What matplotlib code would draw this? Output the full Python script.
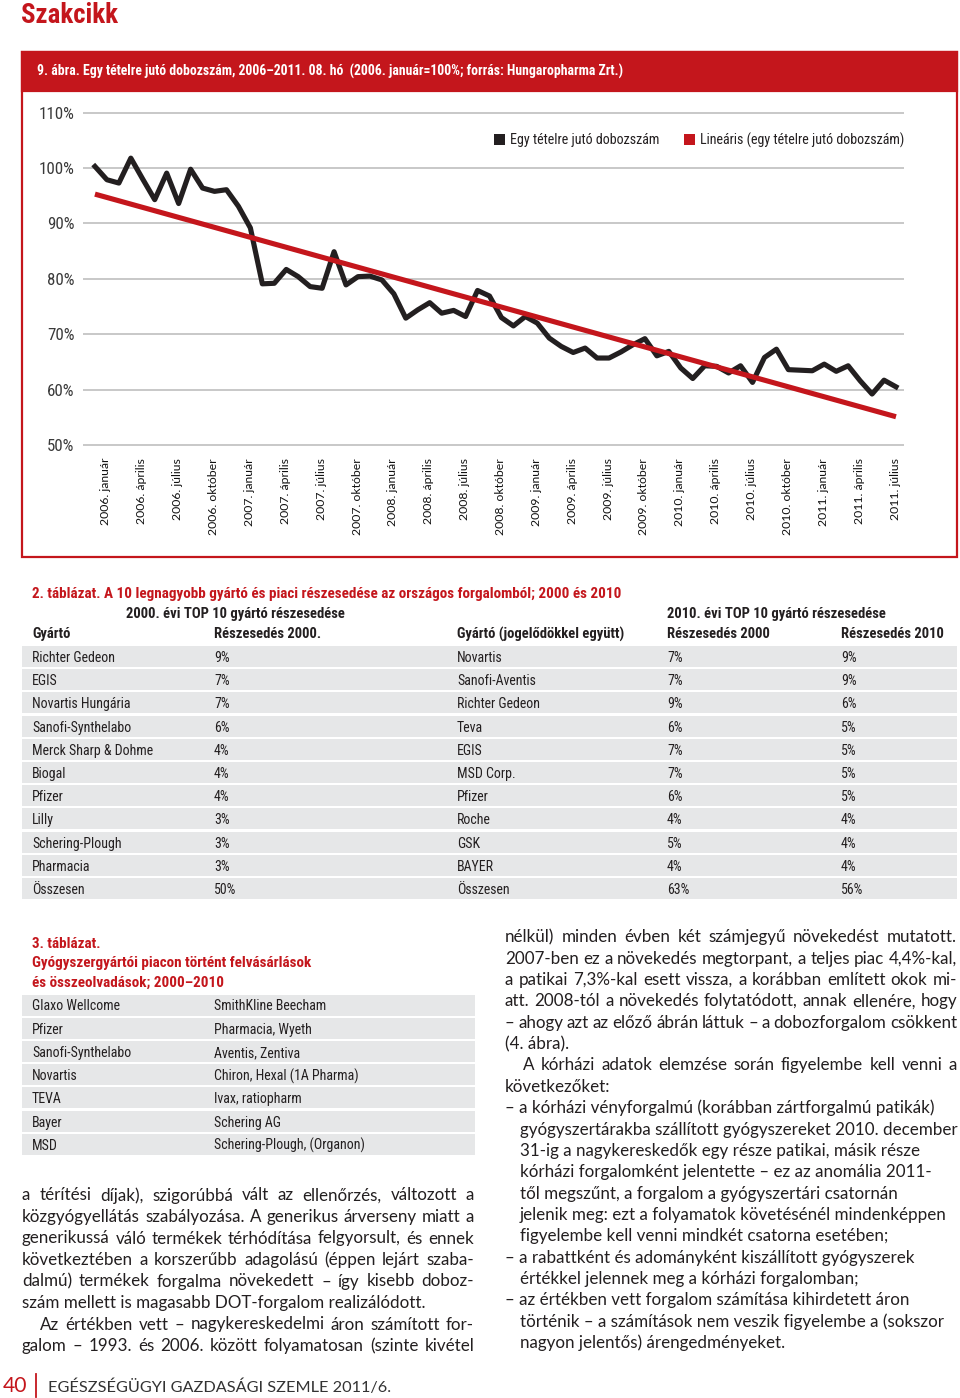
import matplotlib
matplotlib.use('Agg')
import matplotlib.pyplot as plt
import matplotlib.font_manager as fm
from matplotlib.patches import Rectangle, Patch
from matplotlib.lines import Line2D
from matplotlib.transforms import ScaledTranslation
import numpy as np

# ---------------- data ----------------
# 9. ábra: egy tételre jutó dobozszám, 2006. január - 2011. augusztus (2006. január = 100%)
dobozszam = [100.3, 97.9, 97.3, 101.8, 98.0, 94.3, 99.1, 93.6, 99.8, 96.4, 95.8, 96.1,
             93.1, 89.2, 79.1, 79.2, 81.7, 80.4, 78.6, 78.3, 84.9, 78.9, 80.4, 80.5,
             79.8, 77.3, 72.9, 74.4, 75.7, 73.8, 74.3, 73.2, 77.9, 76.9, 73.0, 71.5,
             73.2, 72.0, 69.3, 67.8, 66.7, 67.5, 65.7, 65.7, 66.8, 68.1, 69.2, 66.1,
             66.9, 63.9, 62.0, 64.3, 64.2, 63.0, 64.3, 61.3, 65.8, 67.3, 63.6, 63.5,
             63.4, 64.6, 63.3, 64.3, 61.6, 59.2, 61.7, 60.5]
# lineáris trend (kezdő és záró érték)
trend_ertekek = [95.3, 55.1]
x_cimkek = ["2006. január", "2006. április", "2006. július", "2006. október",
            "2007. január", "2007. április", "2007. július", "2007. október",
            "2008. január", "2008. április", "2008. július", "2008. október",
            "2009. január", "2009. április", "2009. július", "2009. október",
            "2010. január", "2010. április", "2010. július", "2010. október",
            "2011. január", "2011. április", "2011. július"]
y_ertekek = [50, 60, 70, 80, 90, 100, 110]
sorozat_nevek = ["Egy tételre jutó dobozszám", "Lineáris (egy tételre jutó dobozszám)"]

# 2. táblázat
gyarto_2000 = ["Richter Gedeon", "EGIS", "Novartis Hungária", "Sanofi-Synthelabo",
               "Merck Sharp & Dohme", "Biogal", "Pfizer", "Lilly", "Schering-Plough",
               "Pharmacia", "Összesen"]
reszesedes_2000 = [9, 7, 7, 6, 4, 4, 4, 3, 3, 3, 50]
gyarto_2010 = ["Novartis", "Sanofi-Aventis", "Richter Gedeon", "Teva", "EGIS",
               "MSD Corp.", "Pfizer", "Roche", "GSK", "BAYER", "Összesen"]
top2010_reszesedes_2000 = [7, 7, 9, 6, 7, 7, 6, 4, 5, 4, 63]
top2010_reszesedes_2010 = [9, 9, 6, 5, 5, 5, 5, 4, 4, 4, 56]

# 3. táblázat
felvasarlo = ["Glaxo Wellcome", "Pfizer", "Sanofi-Synthelabo", "Novartis", "TEVA",
              "Bayer", "MSD"]
felvasarolt = ["SmithKline Beecham", "Pharmacia, Wyeth", "Aventis, Zentiva",
               "Chiron, Hexal (1A Pharma)", "Ivax, ratiopharm", "Schering AG",
               "Schering-Plough, (Organon)"]

# body text
bal_sorok = [
    ("a térítési díjak), szigorúbbá vált az ellenőrzés, változott a", True, 0),
    ("közgyógyellátás szabályozása. A generikus árverseny miatt a", True, 0),
    ("generikussá váló termékek térhódítása felgyorsult, és ennek", True, 0),
    ("következtében a korszerűbb adagolású (éppen lejárt szaba-", True, 0),
    ("dalmú) termékek forgalma növekedett – így kisebb doboz-", True, 0),
    ("szám mellett is magasabb DOT-forgalom realizálódott.", False, 0),
    ("Az értékben vett – nagykereskedelmi áron számított for-", True, 18),
    ("galom – 1993. és 2006. között folyamatosan (szinte kivétel", True, 0),
]
jobb_sorok = [
    ("nélkül) minden évben két számjegyű növekedést mutatott.", True, 0),
    ("2007-ben ez a növekedés megtorpant, a teljes piac 4,4%-kal,", True, 0),
    ("a patikai 7,3%-kal esett vissza, a korábban említett okok mi-", True, 0),
    ("att. 2008-tól a növekedés folytatódott, annak ellenére, hogy", True, 0),
    ("– ahogy azt az előző ábrán láttuk – a dobozforgalom csökkent", True, 0),
    ("(4. ábra).", False, 0),
    ("A kórházi adatok elemzése során figyelembe kell venni a", True, 18),
    ("következőket:", False, 0),
    ("– a kórházi vényforgalmú (korábban zártforgalmú patikák)", False, 0),
    ("gyógyszertárakba szállított gyógyszereket 2010. december", False, 15),
    ("31-ig a nagykereskedők egy része patikai, másik része", False, 15),
    ("kórházi forgalomként jelentette – ez az anomália 2011-", False, 15),
    ("től megszűnt, a forgalom a gyógyszertári csatornán", False, 15),
    ("jelenik meg: ezt a folyamatok követésénél mindenképpen", False, 15),
    ("figyelembe kell venni mindkét csatorna esetében;", False, 15),
    ("– a rabattként és adományként kiszállított gyógyszerek", False, 0),
    ("értékkel jelennek meg a kórházi forgalomban;", False, 15),
    ("– az értékben vett forgalom számítása kihirdetett áron", False, 0),
    ("történik – a számítások nem veszik figyelembe a (sokszor", False, 15),
    ("nagyon jelentős) árengedményeket.", False, 15),
]

CAPTION = ("9. ábra. Egy tételre jutó dobozszám, 2006–2011. 08. hó  "
           "(2006. január=100%; forrás: Hungaropharma Zrt.)")
TAB2_TITLE = ("2. táblázat. A 10 legnagyobb gyártó és piaci részesedése az "
              "országos forgalomból; 2000 és 2010")
TAB3_TITLE = ["3. táblázat.", "Gyógyszergyártói piacon történt felvásárlások",
              "és összeolvadások; 2000–2010"]

# ---------------- style ----------------
W, H = 960, 1398
RED = '#C4161C'
DARK = '#231F20'
BAND = '#E6E7E8'
GRID = '#C8C8C8'
BODY = ['Lato', 'DejaVu Sans']
plt.rcParams['font.family'] = BODY

# pick a condensed sans family if one is installed
_fl = fm.fontManager.ttflist
_names = {f.name for f in _fl}
COND_KW = None
for nm in ['Roboto Condensed', 'Open Sans Condensed', 'Noto Sans Condensed',
           'Liberation Sans Narrow', 'DejaVu Sans Condensed', 'Arial Narrow']:
    if nm in _names:
        COND_KW = dict(family=[nm, 'DejaVu Sans'], stretch='normal')
        break
if COND_KW is None:
    for nm in ['Roboto', 'Open Sans', 'Noto Sans', 'DejaVu Sans', 'Liberation Sans']:
        if any(f.name == nm and f.stretch in ('condensed', 'semi-condensed',
                                              'extra-condensed', 'ultra-condensed')
               for f in _fl):
            COND_KW = dict(family=[nm, 'DejaVu Sans'], stretch='condensed')
            break
if COND_KW is None:
    COND_KW = dict(family=['Roboto', 'DejaVu Sans'], stretch='normal')


def fx(x):
    return x / W


def fy(y):
    return 1 - y / H


fig = plt.figure(figsize=(W / 100, H / 100), dpi=100)
fig.patch.set_facecolor('white')
renderer = fig.canvas.get_renderer()


def fit_size(sample, target, **kw):
    t = fig.text(0, 0, sample, size=10, **kw)
    w = t.get_window_extent(renderer).width
    t.remove()
    return 10.0 * target / w


SZ_TITLE = fit_size("Szakcikk", 98, weight='bold', **COND_KW)
SZ_CAP = fit_size(CAPTION, 576, weight='bold', **COND_KW) * 1.02
SZ_YT = fit_size("100%", 32, **COND_KW) * 1.1
SZ_LEG = fit_size(sorozat_nevek[0], 147, **COND_KW) * 1.01
SZ_TAB = fit_size("Richter Gedeon", 74, **COND_KW) * 1.12
SZ_TABB = fit_size("Gyártó (jogelődökkel együtt)", 161, weight='bold', **COND_KW) * 1.04
SZ_RED = fit_size(TAB2_TITLE, 584, weight='bold', **COND_KW) * 1.01
SZ_XT = fit_size("2006. október", 77, family=BODY)
SZ_BODY = fit_size("– a kórházi vényforgalmú (korábban zártforgalmú patikák)", 430,
                   family=BODY)
SZ_FOOT = fit_size("EGÉSZSÉGÜGYI GAZDASÁGI SZEMLE 2011/6.", 340, family=BODY)

# page header
fig.text(fx(21), fy(23), "Szakcikk", weight='bold', size=SZ_TITLE,
         color=RED, va='baseline', ha='left', **COND_KW)

# chart frame and caption bar
fig.add_artist(Rectangle((fx(22), fy(557)), fx(957) - fx(22), (557 - 52) / H,
                         transform=fig.transFigure, facecolor='none',
                         edgecolor=RED, lw=1.6))
fig.add_artist(Rectangle((fx(22), fy(91)), fx(957) - fx(22), (91 - 52) / H,
                         transform=fig.transFigure, facecolor=RED,
                         edgecolor=RED, lw=1.6))
fig.text(fx(37), fy(76), CAPTION, weight='bold', size=SZ_CAP, color='white',
         va='baseline', **COND_KW)

# ---------------- chart ----------------
ax_bottom, ax_top = 450.5, 107.2
ax = fig.add_axes([fx(83), fy(ax_bottom), fx(904) - fx(83), (ax_bottom - ax_top) / H])
x = np.arange(len(dobozszam))
ax.plot(x, dobozszam, color=DARK, lw=3.7, solid_joinstyle='round', zorder=3)
ax.plot([x[0], x[-1]], trend_ertekek, color=RED, lw=3.7, solid_capstyle='butt', zorder=4)
ax.set_xlim(-1.0, 67.67)
ax.set_ylim(49, 111)
for s in ax.spines.values():
    s.set_visible(False)
ax.set_yticks(y_ertekek)
ax.set_yticklabels([f"{v}%" for v in y_ertekek], size=SZ_YT, color='#3A3A3A', **COND_KW)
ax.yaxis.grid(True, color=GRID, lw=1.4)
ax.set_axisbelow(True)
ax.tick_params(axis='y', length=0, pad=6)
ax.set_xticks(x[::3])
ax.set_xticklabels(x_cimkek, rotation=90, family=BODY, size=SZ_XT, color='#111111',
                   ha='center', va='top')
ax.tick_params(axis='x', length=0, pad=5.4)
off = ScaledTranslation(0.11, 0, fig.dpi_scale_trans)
for lbl in ax.get_xticklabels():
    lbl.set_transform(lbl.get_transform() + off)

handles = [Patch(facecolor=DARK, edgecolor='none'), Patch(facecolor=RED, edgecolor='none')]
leg_prop = fm.FontProperties(family=COND_KW['family'], stretch=COND_KW['stretch'],
                             size=SZ_LEG)
leg_px = SZ_LEG * 100 / 72.0
leg = ax.legend(handles, sorozat_nevek,
                loc='center right', bbox_to_anchor=(1.0, 0.9045), ncol=2, frameon=False,
                handlelength=11 / leg_px, handleheight=11 / leg_px,
                handletextpad=5 / leg_px, columnspacing=24 / leg_px,
                borderaxespad=0, borderpad=0, prop=leg_prop)
for t in leg.get_texts():
    t.set_color(DARK)

# ---------------- table 2 ----------------
fig.text(fx(32), fy(598.5), TAB2_TITLE, weight='bold', size=SZ_RED,
         color=RED, va='baseline', **COND_KW)
fig.text(fx(126), fy(618.5), "2000. évi TOP 10 gyártó részesedése",
         weight='bold', size=SZ_TABB, color=DARK, va='baseline', **COND_KW)
fig.text(fx(667), fy(618.5), "2010. évi TOP 10 gyártó részesedése",
         weight='bold', size=SZ_TABB, color=DARK, va='baseline', **COND_KW)
col_x = [32, 214, 457, 667, 841]
fejlec = ["Gyártó", "Részesedés 2000.", "Gyártó (jogelődökkel együtt)",
          "Részesedés 2000", "Részesedés 2010"]
for cx, h in zip(col_x, fejlec):
    fig.text(fx(cx), fy(638.5), h, weight='bold', size=SZ_TABB, color=DARK,
             va='baseline', **COND_KW)
row0, rstep = 656.5, 23.2
for k in range(len(gyarto_2000)):
    yc = row0 + rstep * k
    fig.add_artist(Rectangle((fx(22), fy(yc + 10.5)), fx(957) - fx(22), 21 / H,
                             transform=fig.transFigure, facecolor=BAND, edgecolor='none',
                             zorder=0))
    vals = [gyarto_2000[k], f"{reszesedes_2000[k]}%", gyarto_2010[k],
            f"{top2010_reszesedes_2000[k]}%", f"{top2010_reszesedes_2010[k]}%"]
    for cx, v in zip(col_x, vals):
        fig.text(fx(cx), fy(yc + 5.5), v, size=SZ_TAB, color=DARK,
                 va='baseline', **COND_KW)

# ---------------- table 3 ----------------
for i, t in enumerate(TAB3_TITLE):
    fig.text(fx(32), fy(947.5 + 19.7 * i), t, weight='bold', size=SZ_RED,
             color=RED, va='baseline', **COND_KW)
row0b = 1005
for k in range(len(felvasarlo)):
    yc = row0b + rstep * k
    fig.add_artist(Rectangle((fx(22), fy(yc + 10.5)), fx(475) - fx(22), 21 / H,
                             transform=fig.transFigure, facecolor=BAND, edgecolor='none',
                             zorder=0))
    fig.text(fx(32), fy(yc + 5.5), felvasarlo[k], size=SZ_TAB, color=DARK,
             va='baseline', **COND_KW)
    fig.text(fx(214), fy(yc + 5.5), felvasarolt[k], size=SZ_TAB, color=DARK,
             va='baseline', **COND_KW)

# ---------------- body text ----------------
BODY_KW = dict(family=BODY, size=SZ_BODY, color=DARK)


def width_of(s):
    t = fig.text(0, 0, s, **BODY_KW)
    w = t.get_window_extent(renderer).width
    t.remove()
    return w


def draw_line(x0, x1, yc, s, justify, indent):
    base = yc + 5.5
    if not justify:
        fig.text(fx(x0 + indent), fy(base), s, va='baseline', ha='left', **BODY_KW)
        return
    words = s.split()
    ws = [width_of(w) for w in words]
    gap = (x1 - x0 - indent - sum(ws)) / (len(words) - 1)
    xx = x0 + indent
    for w, wd in zip(words, ws):
        fig.text(fx(xx), fy(base), w, va='baseline', ha='left', **BODY_KW)
        xx += wd + gap


for i, (s, j, ind) in enumerate(bal_sorok):
    draw_line(22, 474, 1195 + 21.5 * i, s, j, ind)
for i, (s, j, ind) in enumerate(jobb_sorok):
    draw_line(505, 957, 936.7 + 21.37 * i, s, j, ind)

# ---------------- footer ----------------
fig.text(fx(3), fy(1392), "40", family=BODY, size=SZ_FOOT * 1.3, color=RED,
         va='baseline')
fig.add_artist(Line2D([fx(36), fx(36)], [fy(1374), fy(1397)], transform=fig.transFigure,
                      color=RED, lw=1.3))
fig.text(fx(48), fy(1392), "EGÉSZSÉGÜGYI GAZDASÁGI SZEMLE 2011/6.", family=BODY,
         size=SZ_FOOT, color='#333333', va='baseline')

fig.savefig('out.png', dpi=100, facecolor='white')
